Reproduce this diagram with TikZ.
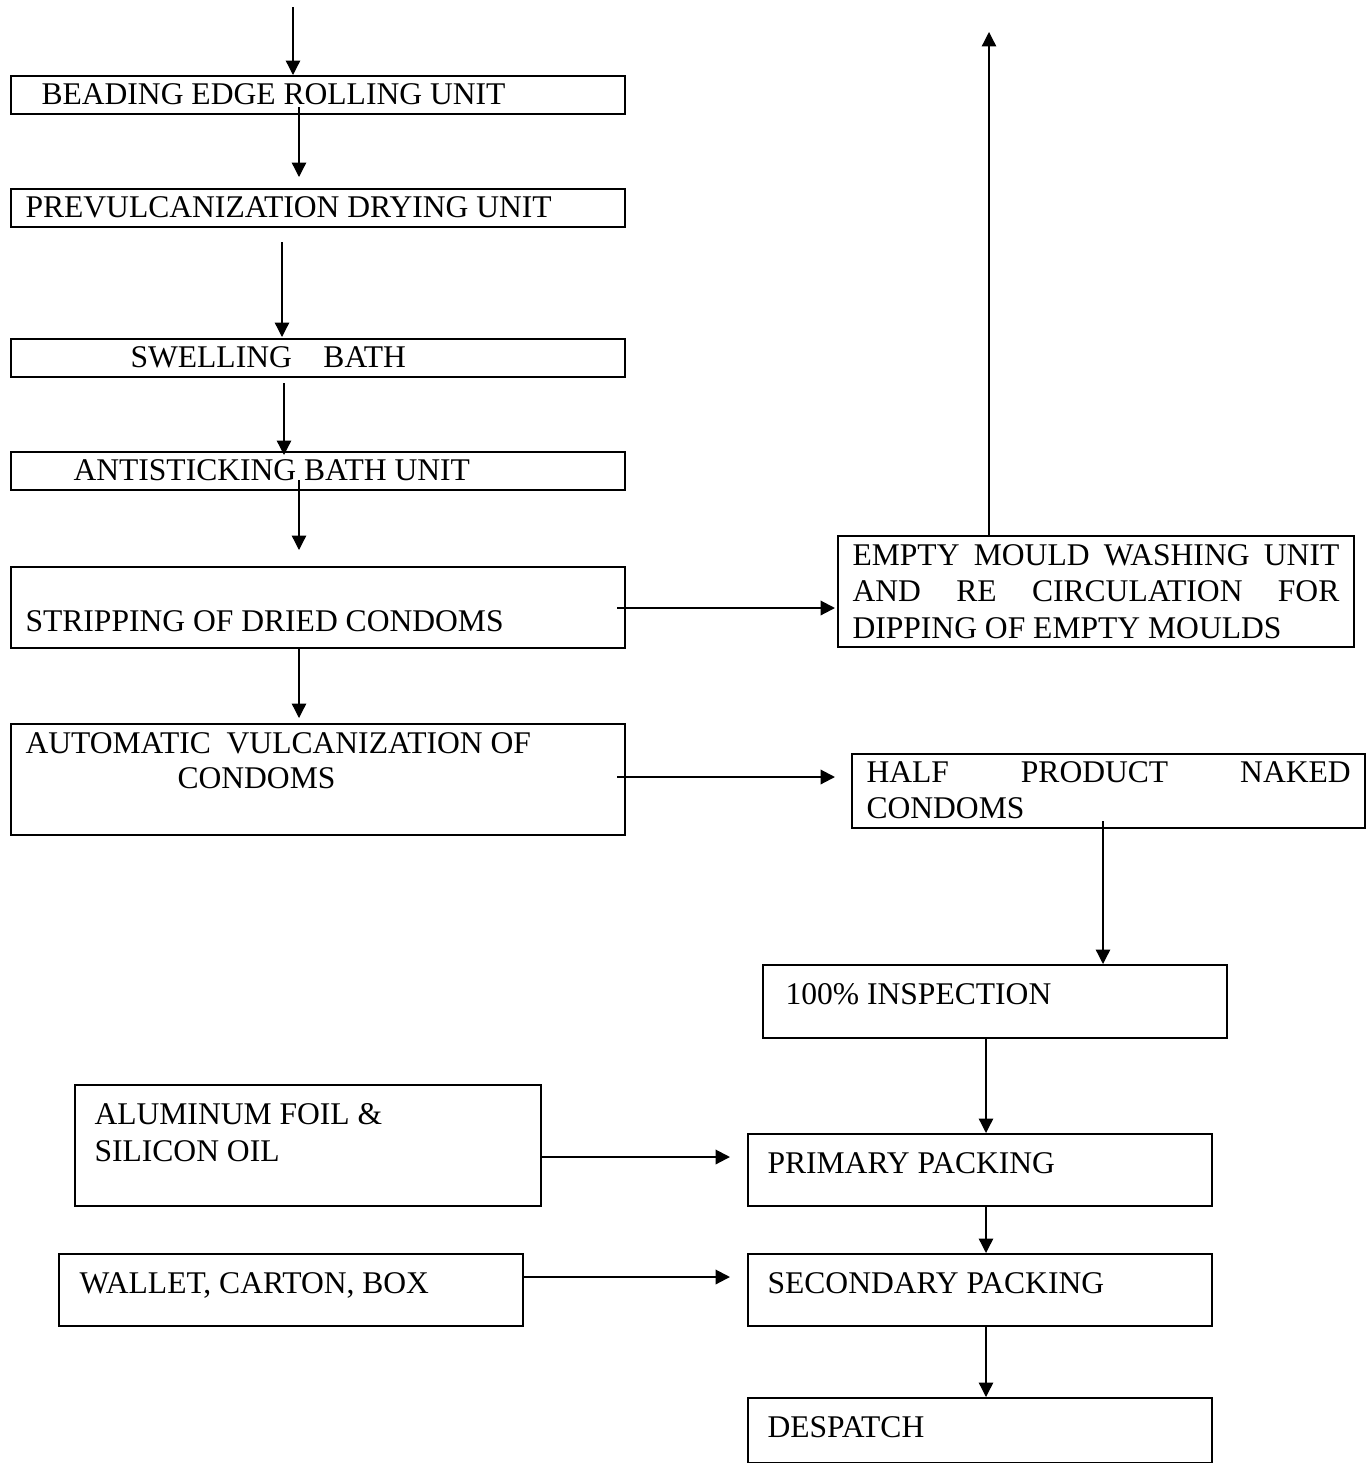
\documentclass[tikz,border=0pt]{standalone}
\usepackage{fontspec}
\setmainfont{Liberation Serif}
\usetikzlibrary{arrows.meta}
\newcommand{\pxu}{0.38pt}

\begin{document}
\begin{tikzpicture}
    [x=\pxu, y=-\pxu,
    font=\fontsize{12}{13.8}\selectfont,
    box/.style={draw=black,line width=0.8pt,anchor=north west,inner sep=0pt},
    dims/.style 2 args={minimum width=#1*\pxu,minimum height=#2*\pxu},
    txt/.style={anchor=base west,inner sep=0pt},
    para/.style={anchor=north west,inner sep=0pt,align=justify,text width=#1},
    arc/.style={-{Triangle[length=5.5pt,width=5.5pt]},line width=0.5pt},
    harc/.style={arc,line width=0.8pt}]

    \useasboundingbox (0,0) rectangle (1371,1463);

    % process boxes
    \node (beading) [box,dims={614}{38}] at (10,75) {};
    \node (prevulc) [box,dims={614}{38}] at (10,188) {};
    \node (swelling) [box,dims={614}{38}] at (10,338) {};
    \node (antistick) [box,dims={614}{38}] at (10,451) {};
    \node (stripping) [box,dims={614}{81}] at (10,566) {};
    \node (autovulc) [box,dims={614}{111}] at (10,723) {};
    \node (washing) [box,dims={516}{111}] at (837,535) {};
    \node (halfprod) [box,dims={513}{74}] at (851,753) {};
    \node (inspect) [box,dims={464}{73}] at (762,964) {};
    \node (primary) [box,dims={464}{72}] at (747,1133) {};
    \node (foil) [box,dims={466}{121}] at (74,1084) {};
    \node (secondary) [box,dims={464}{72}] at (747,1253) {};
    \node (wallet) [box,dims={464}{72}] at (58,1253) {};
    \node (despatch) [box,dims={464}{65}] at (747,1397) {};

    % box texts
    \node (beading-t) [txt] at (41,104) {BEADING EDGE ROLLING UNIT};
    \node (prevulc-t) [txt] at (25,217) {PREVULCANIZATION DRYING UNIT};
    \node (swelling-t) [txt] at (130,367) {SWELLING\hspace{12pt}BATH};
    \node (antistick-t) [txt] at (73,480) {ANTISTICKING BATH UNIT};
    \node (stripping-t) [txt] at (25,631) {STRIPPING OF DRIED CONDOMS};
    \node (autovulc-t) [txt] at (25,753) {AUTOMATIC\hspace{6pt}VULCANIZATION OF};
    \node (autovulc-u) [txt] at (177,788) {CONDOMS};
    \node (washing-t) [para=185pt] at (852,544) {EMPTY MOULD WASHING UNIT\linebreak AND RE CIRCULATION FOR\linebreak DIPPING OF EMPTY MOULDS};
    \node (halfprod-t) [para=184pt] at (866,761) {HALF PRODUCT NAKED\linebreak CONDOMS};
    \node (inspect-t) [txt] at (785,1004) {100\% INSPECTION};
    \node (primary-t) [txt] at (767,1173) {PRIMARY PACKING};
    \node (foil-t) [txt] at (94,1124) {ALUMINUM FOIL \&};
    \node (foil-u) [txt] at (94,1161) {SILICON OIL};
    \node (secondary-t) [txt] at (767,1293) {SECONDARY PACKING};
    \node (wallet-t) [txt] at (79,1293) {WALLET, CARTON, BOX};
    \node (despatch-t) [txt] at (767,1437) {DESPATCH};

    % free arrow ends
    \coordinate (feed) at (293,7);
    \coordinate (b1) at (299,107);
    \coordinate (b2) at (299,177);
    \coordinate (c1) at (282,242);
    \coordinate (c2) at (282,337);
    \coordinate (d1) at (284,383);
    \coordinate (d2) at (284,455);
    \coordinate (e1) at (299,480);
    \coordinate (e2) at (299,550);
    \coordinate (f2) at (299,718);
    \coordinate (g1) at (617,608);
    \coordinate (g2) at (835,608);
    \coordinate (h1) at (989,32);
    \coordinate (i1) at (617,777);
    \coordinate (i2) at (835,777);
    \coordinate (j1) at (1103,821);
    \coordinate (k1) at (986,0);
    \coordinate (l2) at (730,1157);
    \coordinate (n2) at (730,1277);

    \draw [arc] (feed) -- (feed |- beading.north);
    \draw [arc] (b1) -- (b2);
    \draw [arc] (c1) -- (c2);
    \draw [arc] (d1) -- (d2);
    \draw [arc] (e1) -- (e2);
    \draw [arc] (f2 |- stripping.south) -- (f2);
    \draw [harc] (g1) -- (g2);
    \draw [arc] (h1 |- washing.north) -- (h1);
    \draw [harc] (i1) -- (i2);
    \draw [arc] (j1) -- (j1 |- inspect.north);
    \draw [arc] (k1 |- inspect.south) -- (k1 |- primary.north);
    \draw [harc] (l2 -| foil.east) -- (l2);
    \draw [arc] (k1 |- primary.south) -- (k1 |- secondary.north);
    \draw [harc] (n2 -| wallet.east) -- (n2);
    \draw [arc] (k1 |- secondary.south) -- (k1 |- despatch.north);

\end{tikzpicture}
\end{document}
